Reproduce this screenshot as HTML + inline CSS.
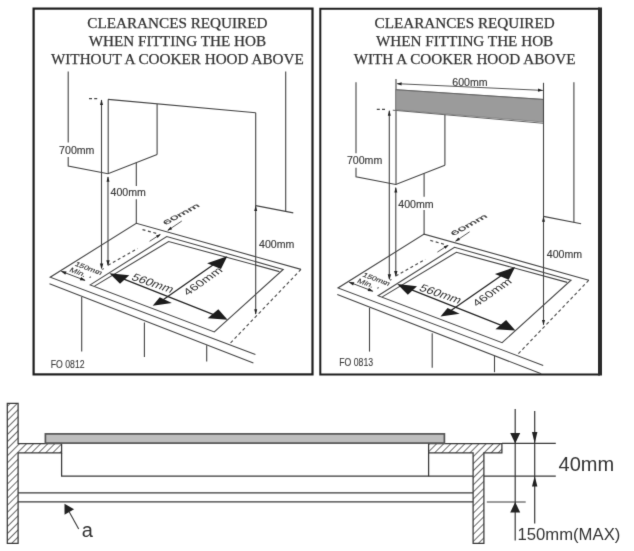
<!DOCTYPE html>
<html lang="en"><head><meta charset="utf-8"><title>Hob clearances</title>
<style>
html,body{margin:0;padding:0;background:#fff;}
body{width:634px;height:551px;overflow:hidden;}
svg{display:block;will-change:transform;}
.ss{font-family:"Liberation Sans",Arial,Helvetica,sans-serif;}
.sf{font-family:"Liberation Serif","Times New Roman",Times,serif;}
</style></head><body>
<svg width="634" height="551" viewBox="0 0 634 551" role="img" aria-label="Hob installation clearances">
<defs><filter id="soft" x="0" y="0" width="634" height="551" filterUnits="userSpaceOnUse" color-interpolation-filters="sRGB"><feConvolveMatrix order="3" kernelMatrix="0.0100 0.0800 0.0100 0.0800 0.6400 0.0800 0.0100 0.0800 0.0100" edgeMode="duplicate" preserveAlpha="true"/></filter></defs>
<g filter="url(#soft)">
<rect width="634" height="551" fill="#fff"/>
<rect x="33.6" y="8.6" width="278.9" height="365.8" fill="none" stroke="#1c1c1c" stroke-width="2.2"/>
<path d="M600,8.7 H320.3 V374.5 H600" fill="none" stroke="#1c1c1c" stroke-width="2"/>
<line x1="600" y1="7.6" x2="600" y2="375.5" stroke="#2a2a2a" stroke-width="4"/>
<text transform="translate(177.40,27.70) scale(1,1)" font-size="15.2" class="sf" text-anchor="middle" fill="#333" stroke="#333" stroke-width="0.25" >CLEARANCES REQUIRED</text>
<text transform="translate(177.40,45.90) scale(1,1)" font-size="15.2" class="sf" text-anchor="middle" fill="#333" stroke="#333" stroke-width="0.25" >WHEN FITTING THE HOB</text>
<text transform="translate(177.40,64.10) scale(1,1)" font-size="15.2" class="sf" text-anchor="middle" fill="#333" stroke="#333" stroke-width="0.25" >WITHOUT A COOKER HOOD ABOVE</text>
<text transform="translate(464.60,27.70) scale(1,1)" font-size="15.2" class="sf" text-anchor="middle" fill="#333" stroke="#333" stroke-width="0.25" >CLEARANCES REQUIRED</text>
<text transform="translate(464.60,45.90) scale(1,1)" font-size="15.2" class="sf" text-anchor="middle" fill="#333" stroke="#333" stroke-width="0.25" >WHEN FITTING THE HOB</text>
<text transform="translate(464.60,64.10) scale(1,1)" font-size="15.2" class="sf" text-anchor="middle" fill="#333" stroke="#333" stroke-width="0.25" >WITH A COOKER HOOD ABOVE</text>
<g transform="translate(0,0)">
<path d="M68.20,71.50 L68.20,142.50" stroke="#444" stroke-width="1.1" fill="none" />
<path d="M68.20,157.00 L68.20,166.00 L108.00,173.70 L157.10,154.50" stroke="#444" stroke-width="1.1" fill="none" />
<line x1="108.20" y1="99.40" x2="108.20" y2="173.70" stroke="#444" stroke-width="1.1" />
<line x1="108.00" y1="99.40" x2="255.70" y2="112.80" stroke="#444" stroke-width="1.1" />
<line x1="157.10" y1="104.00" x2="157.10" y2="154.50" stroke="#444" stroke-width="1.1" />
<line x1="136.30" y1="162.80" x2="136.30" y2="186.00" stroke="#444" stroke-width="1.1" />
<line x1="136.30" y1="199.20" x2="136.30" y2="223.30" stroke="#444" stroke-width="1.1" />
<line x1="255.70" y1="112.80" x2="255.70" y2="314.00" stroke="#444" stroke-width="1.1" />
<line x1="285.70" y1="71.50" x2="285.70" y2="211.40" stroke="#444" stroke-width="1.1" />
<line x1="255.70" y1="205.60" x2="293.30" y2="212.90" stroke="#444" stroke-width="1.1" />
<line x1="101.50" y1="100.00" x2="101.50" y2="268.00" stroke="#444" stroke-width="1.1" />
<path d="M101.50,99.40 L103.00,104.90 L100.00,104.90 Z" fill="#222"/>
<path d="M101.60,269.40 L99.90,263.40 L103.30,263.40 Z" fill="#222"/>
<line x1="108.00" y1="177.00" x2="108.00" y2="265.00" stroke="#444" stroke-width="1.1" />
<path d="M108.00,176.20 L109.50,181.70 L106.50,181.70 Z" fill="#222"/>
<path d="M108.00,266.20 L106.30,260.20 L109.70,260.20 Z" fill="#222"/>
<path d="M255.70,205.50 L257.20,211.00 L254.20,211.00 Z" fill="#222"/>
<path d="M255.70,314.80 L254.20,309.30 L257.20,309.30 Z" fill="#222"/>
<line x1="89.00" y1="98.60" x2="97.50" y2="98.60" stroke="#444" stroke-width="1.1" stroke-dasharray="3 2.2"/>
<path d="M255.40,354.60 L50.20,277.20 L136.30,223.30 L301.00,269.40" stroke="#444" stroke-width="1.1" fill="none" />
<line x1="49.50" y1="283.80" x2="253.40" y2="363.00" stroke="#444" stroke-width="1.1" />
<line x1="301.00" y1="269.40" x2="230.20" y2="343.30" stroke="#444" stroke-width="1.1" stroke-dasharray="3.2 2.6"/>
<path d="M90.20,284.90 L166.70,236.50 L283.20,269.40 L214.30,331.90 Z" stroke="#444" stroke-width="1.1" fill="none" />
<path d="M94.50,286.10 L168.60,241.50 L279.40,271.60" stroke="#444" stroke-width="1.1" fill="none" />
<line x1="89.50" y1="277.60" x2="108.00" y2="265.80" stroke="#444" stroke-width="1.1" stroke-dasharray="1.6 6"/>
<line x1="108.00" y1="265.20" x2="137.50" y2="248.60" stroke="#444" stroke-width="1.1" stroke-dasharray="3 2.6"/>
<line x1="142.50" y1="229.60" x2="158.00" y2="233.90" stroke="#444" stroke-width="1.1" stroke-dasharray="3 2.6"/>
<line x1="149.60" y1="241.30" x2="160.00" y2="234.60" stroke="#444" stroke-width="0.9" />
<path d="M161.00,234.10 L157.61,238.07 L155.98,235.55 Z" fill="#222"/>
<line x1="168.00" y1="230.30" x2="181.80" y2="221.00" stroke="#444" stroke-width="0.9" />
<path d="M167.20,230.80 L170.53,226.78 L172.19,229.27 Z" fill="#222"/>
<text transform="translate(181.00,214.00) rotate(-29) skewX(22) scale(1.42,0.66)" font-size="10" class="ss" text-anchor="middle" fill="#3a3a3a" stroke="#3a3a3a" stroke-width="0.25" y="3.60">60mm</text>
<line x1="61.50" y1="271.40" x2="85.00" y2="280.40" stroke="#444" stroke-width="1" />
<path d="M60.80,271.10 L66.58,271.41 L65.28,274.77 Z" fill="#222"/>
<path d="M85.60,280.60 L79.82,280.29 L81.12,276.93 Z" fill="#222"/>
<text transform="translate(88.80,268.30) rotate(20) skewX(-16) scale(1.05,0.82)" font-size="8" class="ss" text-anchor="middle" fill="#3a3a3a" stroke="#3a3a3a" stroke-width="0.2" y="2.88">150mm</text>
<text transform="translate(78.00,272.20) rotate(20) skewX(-16) scale(1.1,0.82)" font-size="8" class="ss" text-anchor="middle" fill="#3a3a3a" stroke="#3a3a3a" stroke-width="0.2" y="2.88">Min.</text>
<line x1="122.00" y1="278.40" x2="215.50" y2="315.30" stroke="#222" stroke-width="1.25" />
<path d="M109.40,273.20 L129.22,275.33 L120.04,283.84 Z" fill="#1c1c1c"/>
<path d="M227.60,319.80 L218.30,309.16 L207.66,318.34 Z" fill="#1c1c1c"/>
<line x1="163.50" y1="299.50" x2="216.50" y2="262.60" stroke="#222" stroke-width="1.25" />
<path d="M227.30,256.20 L207.14,263.14 L220.92,268.97 Z" fill="#1c1c1c"/>
<path d="M152.70,305.70 L159.76,297.19 L171.85,302.90 Z" fill="#1c1c1c"/>
<text transform="translate(153.00,283.00) rotate(18.5) skewX(-18) scale(0.95,0.8)" font-size="13.4" class="ss" text-anchor="middle" fill="#303030" y="4.82">560mm</text>
<text transform="translate(202.60,281.00) rotate(-35) skewX(15) scale(1,0.8)" font-size="13.0" class="ss" text-anchor="middle" fill="#303030" y="4.68">460mm</text>
<line x1="81.70" y1="297.00" x2="81.70" y2="351.50" stroke="#444" stroke-width="1.1" />
<line x1="144.40" y1="322.40" x2="144.40" y2="357.00" stroke="#444" stroke-width="1.1" />
<line x1="206.70" y1="345.20" x2="206.70" y2="361.40" stroke="#444" stroke-width="1.1" />
<text transform="translate(59.10,153.50) scale(1,1)" font-size="10.6" class="ss" text-anchor="start" fill="#3a3a3a" stroke="#3a3a3a" stroke-width="0.15" >700mm</text>
<text transform="translate(110.50,196.20) scale(1,1)" font-size="10.6" class="ss" text-anchor="start" fill="#3a3a3a" stroke="#3a3a3a" stroke-width="0.15" >400mm</text>
<text transform="translate(259.00,247.60) scale(1,1)" font-size="10.6" class="ss" text-anchor="start" fill="#3a3a3a" stroke="#3a3a3a" stroke-width="0.15" >400mm</text>
</g>
<g transform="translate(287.8,10.8)">
<path d="M68.20,71.50 L68.20,142.50" stroke="#444" stroke-width="1.1" fill="none" />
<path d="M68.20,157.00 L68.20,166.00 L108.00,173.70 L157.10,154.50" stroke="#444" stroke-width="1.1" fill="none" />
<line x1="108.20" y1="68.30" x2="108.20" y2="173.70" stroke="#444" stroke-width="1.1" />
<path d="M108.00,78.90 L255.70,88.70 L255.70,111.20 L108.00,99.00 Z" stroke="#777" stroke-width="0.8" fill="#9b9b9b" />
<line x1="105.00" y1="99.40" x2="255.70" y2="112.50" stroke="#666" stroke-width="1" />
<line x1="108.00" y1="78.90" x2="255.70" y2="88.60" stroke="#666" stroke-width="1" />
<line x1="109.50" y1="72.90" x2="255.00" y2="79.60" stroke="#444" stroke-width="0.9" />
<path d="M108.80,72.90 L113.87,71.53 L113.72,74.73 Z" fill="#222"/>
<path d="M255.20,79.60 L250.13,80.97 L250.28,77.77 Z" fill="#222"/>
<text transform="translate(164.50,74.80) scale(1,1)" font-size="10.6" class="ss" text-anchor="start" fill="#3a3a3a" stroke="#3a3a3a" stroke-width="0.15" >600mm</text>
<line x1="157.10" y1="104.00" x2="157.10" y2="154.50" stroke="#444" stroke-width="1.1" />
<line x1="136.30" y1="162.80" x2="136.30" y2="186.00" stroke="#444" stroke-width="1.1" />
<line x1="136.30" y1="199.20" x2="136.30" y2="223.30" stroke="#444" stroke-width="1.1" />
<line x1="255.70" y1="72.00" x2="255.70" y2="314.00" stroke="#444" stroke-width="1.1" />
<line x1="286.10" y1="71.50" x2="286.10" y2="211.40" stroke="#444" stroke-width="1.1" />
<line x1="255.70" y1="205.60" x2="293.30" y2="212.90" stroke="#444" stroke-width="1.1" />
<line x1="101.50" y1="100.00" x2="101.50" y2="268.00" stroke="#444" stroke-width="1.1" />
<path d="M101.50,99.40 L103.00,104.90 L100.00,104.90 Z" fill="#222"/>
<path d="M101.60,269.40 L99.90,263.40 L103.30,263.40 Z" fill="#222"/>
<line x1="108.00" y1="177.00" x2="108.00" y2="265.00" stroke="#444" stroke-width="1.1" />
<path d="M108.00,176.20 L109.50,181.70 L106.50,181.70 Z" fill="#222"/>
<path d="M108.00,266.20 L106.30,260.20 L109.70,260.20 Z" fill="#222"/>
<path d="M255.70,205.50 L257.20,211.00 L254.20,211.00 Z" fill="#222"/>
<path d="M255.70,314.80 L254.20,309.30 L257.20,309.30 Z" fill="#222"/>
<line x1="89.00" y1="98.60" x2="97.50" y2="98.60" stroke="#444" stroke-width="1.1" stroke-dasharray="3 2.2"/>
<path d="M255.40,354.60 L50.20,277.20 L136.30,223.30 L301.00,269.40" stroke="#444" stroke-width="1.1" fill="none" />
<line x1="49.50" y1="283.80" x2="253.40" y2="363.00" stroke="#444" stroke-width="1.1" />
<line x1="301.00" y1="269.40" x2="230.20" y2="343.30" stroke="#444" stroke-width="1.1" stroke-dasharray="3.2 2.6"/>
<path d="M90.20,284.90 L166.70,236.50 L283.20,269.40 L214.30,331.90 Z" stroke="#444" stroke-width="1.1" fill="none" />
<path d="M94.50,286.10 L168.60,241.50 L279.40,271.60" stroke="#444" stroke-width="1.1" fill="none" />
<line x1="89.50" y1="277.60" x2="108.00" y2="265.80" stroke="#444" stroke-width="1.1" stroke-dasharray="1.6 6"/>
<line x1="108.00" y1="265.20" x2="137.50" y2="248.60" stroke="#444" stroke-width="1.1" stroke-dasharray="3 2.6"/>
<line x1="142.50" y1="229.60" x2="158.00" y2="233.90" stroke="#444" stroke-width="1.1" stroke-dasharray="3 2.6"/>
<line x1="149.60" y1="241.30" x2="160.00" y2="234.60" stroke="#444" stroke-width="0.9" />
<path d="M161.00,234.10 L157.61,238.07 L155.98,235.55 Z" fill="#222"/>
<line x1="168.00" y1="230.30" x2="181.80" y2="221.00" stroke="#444" stroke-width="0.9" />
<path d="M167.20,230.80 L170.53,226.78 L172.19,229.27 Z" fill="#222"/>
<text transform="translate(181.00,214.00) rotate(-29) skewX(22) scale(1.42,0.66)" font-size="10" class="ss" text-anchor="middle" fill="#3a3a3a" stroke="#3a3a3a" stroke-width="0.25" y="3.60">60mm</text>
<line x1="61.50" y1="271.40" x2="85.00" y2="280.40" stroke="#444" stroke-width="1" />
<path d="M60.80,271.10 L66.58,271.41 L65.28,274.77 Z" fill="#222"/>
<path d="M85.60,280.60 L79.82,280.29 L81.12,276.93 Z" fill="#222"/>
<text transform="translate(88.80,268.30) rotate(20) skewX(-16) scale(1.05,0.82)" font-size="8" class="ss" text-anchor="middle" fill="#3a3a3a" stroke="#3a3a3a" stroke-width="0.2" y="2.88">150mm</text>
<text transform="translate(78.00,272.20) rotate(20) skewX(-16) scale(1.1,0.82)" font-size="8" class="ss" text-anchor="middle" fill="#3a3a3a" stroke="#3a3a3a" stroke-width="0.2" y="2.88">Min.</text>
<line x1="122.00" y1="278.40" x2="215.50" y2="315.30" stroke="#222" stroke-width="1.25" />
<path d="M109.40,273.20 L129.22,275.33 L120.04,283.84 Z" fill="#1c1c1c"/>
<path d="M227.60,319.80 L218.30,309.16 L207.66,318.34 Z" fill="#1c1c1c"/>
<line x1="163.50" y1="299.50" x2="216.50" y2="262.60" stroke="#222" stroke-width="1.25" />
<path d="M227.30,256.20 L207.14,263.14 L220.92,268.97 Z" fill="#1c1c1c"/>
<path d="M152.70,305.70 L159.76,297.19 L171.85,302.90 Z" fill="#1c1c1c"/>
<text transform="translate(153.00,283.00) rotate(18.5) skewX(-18) scale(0.95,0.8)" font-size="13.4" class="ss" text-anchor="middle" fill="#303030" y="4.82">560mm</text>
<text transform="translate(204.00,281.30) rotate(-35) skewX(15) scale(1,0.8)" font-size="13.0" class="ss" text-anchor="middle" fill="#303030" y="4.68">460mm</text>
<line x1="81.70" y1="297.00" x2="81.70" y2="340.80" stroke="#444" stroke-width="1.1" />
<line x1="144.40" y1="322.40" x2="144.40" y2="357.00" stroke="#444" stroke-width="1.1" />
<line x1="206.70" y1="345.20" x2="206.70" y2="361.40" stroke="#444" stroke-width="1.1" />
<text transform="translate(59.10,153.40) scale(1,1)" font-size="10.6" class="ss" text-anchor="start" fill="#3a3a3a" stroke="#3a3a3a" stroke-width="0.15" >700mm</text>
<text transform="translate(110.50,197.00) scale(1,1)" font-size="10.6" class="ss" text-anchor="start" fill="#3a3a3a" stroke="#3a3a3a" stroke-width="0.15" >400mm</text>
<text transform="translate(259.00,247.20) scale(1,1)" font-size="10.6" class="ss" text-anchor="start" fill="#3a3a3a" stroke="#3a3a3a" stroke-width="0.15" >400mm</text>
</g>
<text transform="translate(50.80,367.80) scale(0.83,1)" font-size="10.5" class="ss" text-anchor="start" fill="#3a3a3a" stroke="#3a3a3a" stroke-width="0.1" >FO 0812</text>
<text transform="translate(339.30,365.60) scale(0.83,1)" font-size="10.5" class="ss" text-anchor="start" fill="#3a3a3a" stroke="#3a3a3a" stroke-width="0.1" >FO 0813</text>
<defs><pattern id="h" width="5" height="5" patternUnits="userSpaceOnUse" patternTransform="rotate(-45)"><line x1="0" y1="2.5" x2="5" y2="2.5" stroke="#444" stroke-width="0.8"/></pattern></defs>
<path d="M7.3,403.3 H18.1 V443.5 H61.6 V452.9 H18.1 V543.3 H7.3 Z" fill="url(#h)" stroke="#383838" stroke-width="1.25"/>
<path d="M428.6,443.5 H501.9 V452.9 H483.9 V543.3 H473.1 V452.9 H428.6 Z" fill="url(#h)" stroke="#383838" stroke-width="1.25"/>
<rect x="45.4" y="433.9" width="399.0" height="9.2" fill="#bebebe" stroke="#555" stroke-width="1.7"/>
<path d="M61.6,452.9 V476.1 H428.6 V452.9" fill="none" stroke="#383838" stroke-width="1.25"/>
<line x1="428.60" y1="476.10" x2="473.10" y2="476.10" stroke="#383838" stroke-width="1.25" />
<line x1="18.10" y1="492.90" x2="473.10" y2="492.90" stroke="#383838" stroke-width="1.25" />
<line x1="18.10" y1="501.90" x2="473.10" y2="501.90" stroke="#383838" stroke-width="1.25" />
<line x1="501.90" y1="443.40" x2="555.80" y2="443.40" stroke="#383838" stroke-width="1.1" />
<line x1="483.90" y1="476.10" x2="555.80" y2="476.10" stroke="#383838" stroke-width="1.1" />
<line x1="486.80" y1="502.00" x2="525.70" y2="502.00" stroke="#383838" stroke-width="1.1" />
<line x1="515.20" y1="409.00" x2="515.20" y2="540.40" stroke="#383838" stroke-width="1.2" />
<line x1="534.70" y1="411.00" x2="534.70" y2="523.40" stroke="#383838" stroke-width="1.2" />
<path d="M515.20,443.40 L510.20,432.90 L520.20,432.90 Z" fill="#222"/>
<path d="M515.20,502.00 L520.20,512.50 L510.20,512.50 Z" fill="#222"/>
<path d="M534.70,443.40 L532.00,431.90 L537.40,431.90 Z" fill="#222"/>
<path d="M534.70,476.10 L537.40,486.60 L532.00,486.60 Z" fill="#222"/>
<text transform="translate(558.60,470.50) scale(1,1)" font-size="20" class="ss" text-anchor="start" fill="#333" >40mm</text>
<text transform="translate(517.40,540.40) scale(1,1)" font-size="16.7" class="ss" text-anchor="start" fill="#333" >150mm(MAX)</text>
<line x1="78.70" y1="529.00" x2="69.30" y2="512.10" stroke="#383838" stroke-width="1.1" />
<path d="M64.50,503.80 L74.07,509.36 L64.54,514.86 Z" fill="#222"/>
<text transform="translate(81.80,537.30) scale(1,1)" font-size="20" class="ss" text-anchor="start" fill="#333" >a</text>
</g>
</svg>
</body></html>
